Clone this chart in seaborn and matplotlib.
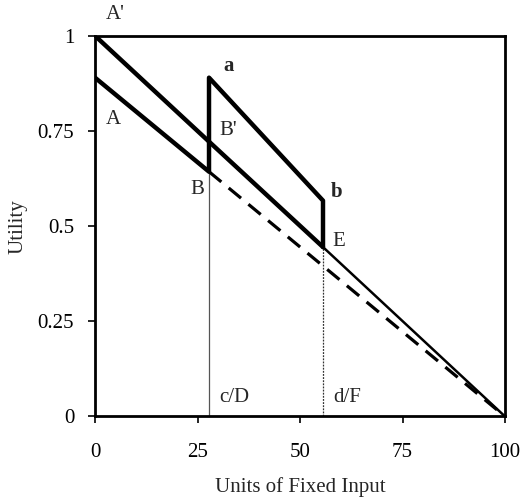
import matplotlib
matplotlib.use('Agg')
import matplotlib.pyplot as plt
import seaborn as sns

# 数据: 效用曲线
cut_c = 27.8
cut_d = 55.6

upper_x = [0, cut_c, cut_d]
upper_y = [1.0, 0.722, 0.445]

tail_x = [cut_d, 100]
tail_y = [0.445, 0.0]

lower_x = [0, cut_c, cut_c, cut_d, cut_d]
lower_y = [0.89, 0.643, 0.89, 0.567, 0.445]

dashed_x = [cut_c, 100]
dashed_y = [0.643, 0.0]

x_ticks = [0, 25, 50, 75, 100]
y_ticks = [0, 0.25, 0.5, 0.75, 1]
y_tick_labels = ['0', '0.25', '0.5', '0.75', '1']

point_labels = [
    ("A'", 5, 1.055, 'normal'),
    ('A', 4.5, 0.78, 'normal'),
    ('a', 32.5, 0.92, 'bold'),
    ("B'", 32.5, 0.75, 'normal'),
    ('B', 25, 0.595, 'normal'),
    ('b', 59, 0.59, 'bold'),
    ('E', 59.5, 0.46, 'normal'),
    ('c/D', 34, 0.05, 'normal'),
    ('d/F', 61.5, 0.05, 'normal'),
]

sns.set_style('ticks')
plt.rcParams['font.family'] = ['Liberation Serif', 'DejaVu Serif']

fig = plt.figure(figsize=(5.25, 4.97), dpi=100)
ax = fig.add_axes([0.181, 0.162, 0.781, 0.766])

# 竖线
ax.plot([cut_c, cut_c], [0, 0.643], color='#555555', lw=0.9)
ax.plot([cut_d, cut_d], [0, 0.445], color='#333333', lw=0.9, linestyle=(0, (1.5, 1)))

sns.lineplot(x=dashed_x, y=dashed_y, ax=ax, color='black', lw=2.3,
             linestyle=(0, (5, 3)), estimator=None, sort=False)
sns.lineplot(x=tail_x, y=tail_y, ax=ax, color='black', lw=1.8,
             estimator=None, sort=False)
sns.lineplot(x=upper_x, y=upper_y, ax=ax, color='black', lw=3.2,
             estimator=None, sort=False)
sns.lineplot(x=lower_x, y=lower_y, ax=ax, color='black', lw=3.2,
             estimator=None, sort=False)

for txt, x, y, w in point_labels:
    ax.text(x, y, txt, fontsize=15, fontweight=w, ha='center', va='center',
            clip_on=False)

ax.set_xlim(0, 100)
ax.set_ylim(0, 1)
ax.set_xticks(x_ticks)
ax.set_xticklabels([str(v) for v in x_ticks], fontsize=15)
ax.set_yticks(y_ticks)
ax.set_yticklabels(y_tick_labels, fontsize=15)
ax.tick_params(direction='out', length=5, width=1.2, colors='black')
ax.tick_params(axis='x', pad=14)
ax.tick_params(axis='y', pad=10)
ax.set_xlabel('Units of Fixed Input', fontsize=15)
ax.set_ylabel('Utility', fontsize=15)
ax.xaxis.set_label_coords(0.5, -0.16)
ax.yaxis.set_label_coords(-0.165, 0.5)
for s in ax.spines.values():
    s.set_linewidth(2)
    s.set_color('black')

plt.savefig('out.png', dpi=100, facecolor='white')
plt.close()
